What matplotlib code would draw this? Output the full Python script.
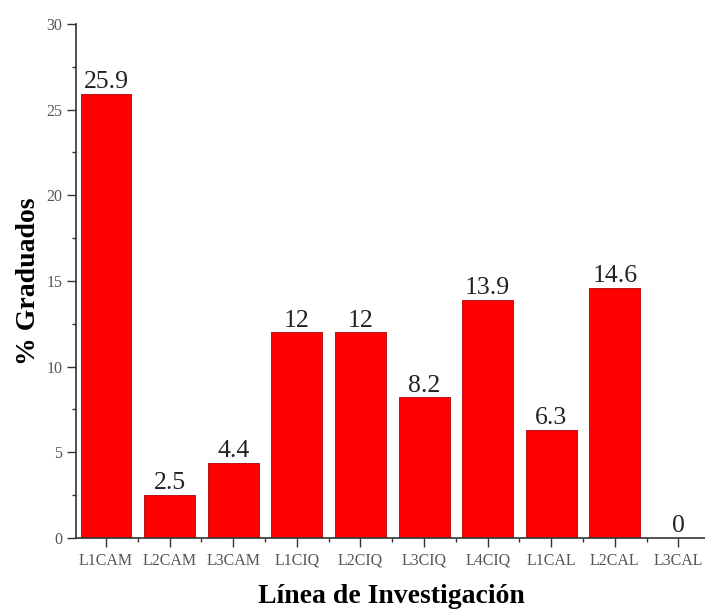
import matplotlib.pyplot as plt
import numpy as np
from matplotlib.ticker import MultipleLocator

lineas = ['L1CAM', 'L2CAM', 'L3CAM', 'L1CIQ', 'L2CIQ', 'L3CIQ', 'L4CIQ', 'L1CAL', 'L2CAL', 'L3CAL']
graduados = [25.9, 2.5, 4.4, 12, 12, 8.2, 13.9, 6.3, 14.6, 0]
etiquetas = ['25.9', '2.5', '4.4', '12', '12', '8.2', '13.9', '6.3', '14.6', '0']

plt.rcParams['font.family'] = ['Liberation Serif', 'DejaVu Serif']

fig = plt.figure(figsize=(7.05, 6.09), dpi=100)
ax = fig.add_axes([0.108, 0.1166, 0.895, 0.844])

x = np.arange(len(lineas))
bars = ax.bar(x, graduados, width=0.8, color='#ff0000', edgecolor='#b00000', linewidth=0.6, zorder=2)

for xi, v, lab in zip(x, graduados, etiquetas):
    ax.text(xi, v + 0.05, lab, ha='center', va='bottom', fontsize=18.5, color='#222222')

ax.set_xlim(-0.47, 9.45)
ax.set_ylim(0, 30)
ax.set_xticks(x)
ax.set_xticklabels(lineas)
ax.xaxis.set_minor_locator(MultipleLocator(1, offset=0.5))
ax.yaxis.set_major_locator(MultipleLocator(5))
ax.yaxis.set_minor_locator(MultipleLocator(2.5))

ax.spines['top'].set_visible(False)
ax.spines['right'].set_visible(False)
for s in ('left', 'bottom'):
    ax.spines[s].set_color('#333333')
    ax.spines[s].set_linewidth(1.2)

ax.tick_params(axis='both', which='major', length=6.5, width=1, color='#333333',
               labelsize=11.5, labelcolor='#555555', direction='out')
ax.tick_params(axis='both', which='minor', length=3, width=1, color='#333333', direction='out')
ax.tick_params(axis='x', which='major', pad=4)

ax.set_ylabel('% Graduados', fontsize=20, fontweight='bold', labelpad=4)
ax.set_xlabel('Línea de Investigación', fontsize=20, fontweight='bold', labelpad=11)

fig.savefig('out.png', dpi=100)
